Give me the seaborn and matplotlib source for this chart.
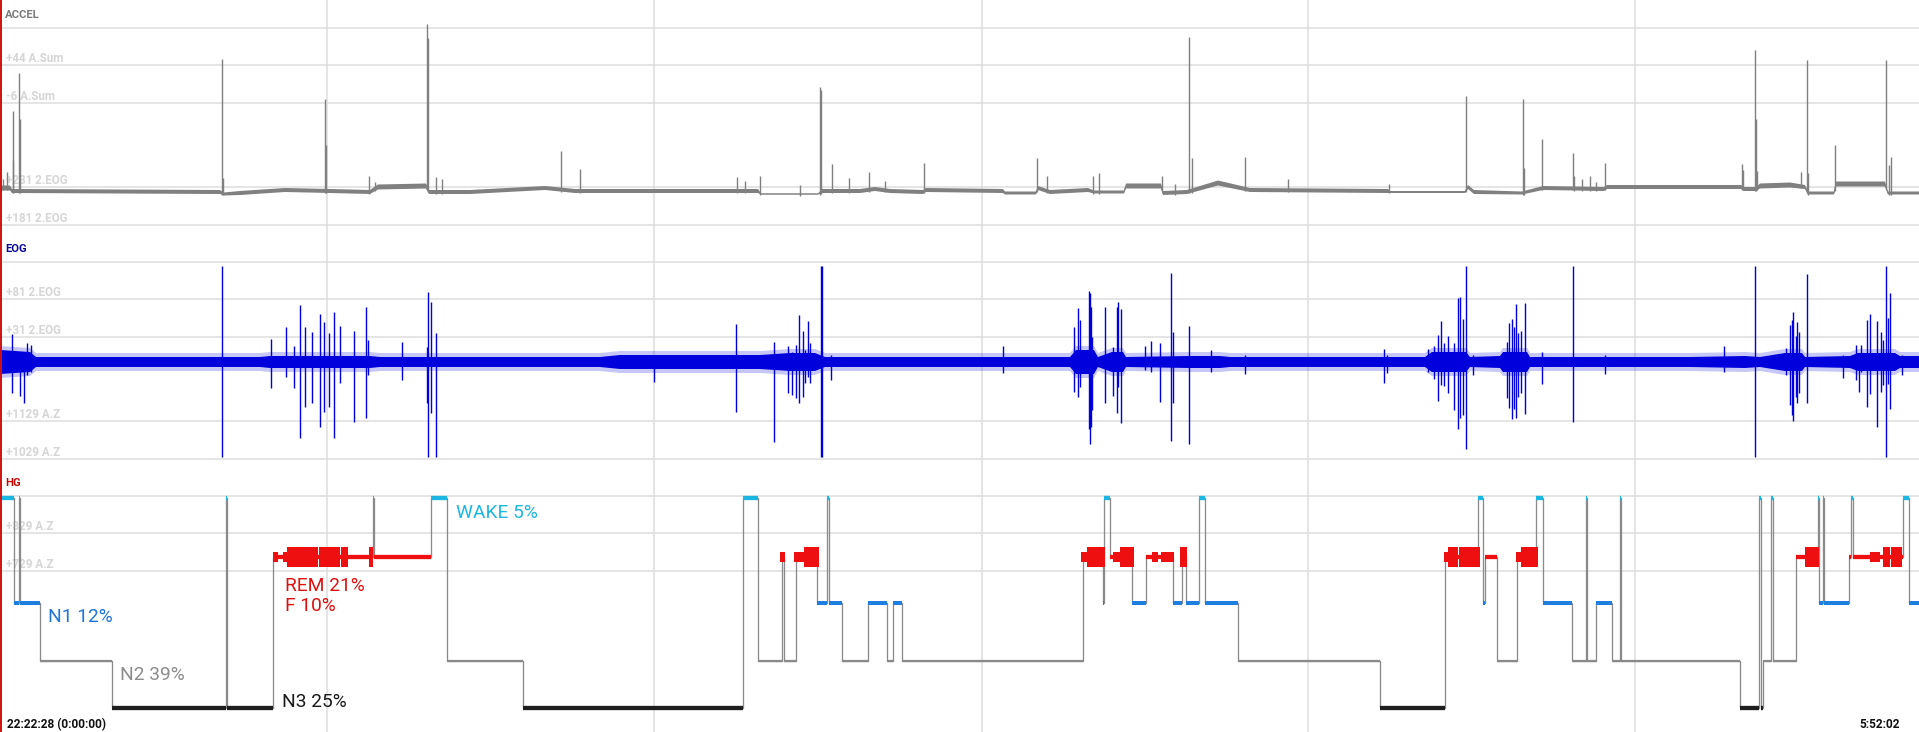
import numpy as np
import matplotlib
matplotlib.use("Agg")
import matplotlib.pyplot as plt
from matplotlib.lines import Line2D
import seaborn as sns

# ---------------- data ----------------
REC_START = "22:22:28"
REC_END = "5:52:02"
TOTAL_MIN = 449.57          # recording length in minutes

grid_minutes = [76.61, 153.33, 230.05, 306.54, 383.15]

# Hypnogram: stage onsets (minutes from start) and stages
hyp_onset = [0.00, 3.28, 4.45, 4.69, 9.37, 26.24, 52.83, 53.18, 63.96, 87.27,
             87.62, 100.97, 104.72, 122.52, 174.06, 177.58, 183.20, 183.67, 186.48, 191.40,
             193.74, 194.21, 197.26, 203.35, 207.80, 209.20, 211.31, 253.71, 258.40, 258.63,
             260.04, 265.19, 268.47, 274.80, 276.91, 277.85, 280.89, 282.30, 290.03, 323.29,
             338.52, 346.25, 347.42, 347.89, 350.70, 355.39, 359.84, 361.48, 368.27, 371.55,
             371.90, 373.90, 377.64, 379.52, 379.87, 407.63, 412.08, 412.55, 413.02, 415.01,
             415.36, 420.75, 425.90, 426.14, 427.07, 427.31, 433.17, 433.63, 434.10, 445.82,
             447.22]
hyp_stage = ['W', 'N1', 'W', 'N1', 'N2', 'N3', 'W', 'N3', 'REM', 'W',
             'REM', 'W', 'N2', 'N3', 'W', 'N2', 'REM', 'N2', 'REM', 'N1',
             'W', 'N1', 'N2', 'N1', 'N2', 'N1', 'N2', 'REM', 'N1', 'W',
             'REM', 'N1', 'REM', 'N1', 'REM', 'N1', 'W', 'N1', 'N2', 'N3',
             'REM', 'W', 'N1', 'REM', 'N2', 'REM', 'W', 'N1', 'N2', 'W',
             'N2', 'N1', 'N2', 'W', 'N2', 'N3', 'W', 'N3', 'N2', 'W',
             'N2', 'REM', 'W', 'N1', 'W', 'N1', 'REM', 'W', 'REM', 'W',
             'N1']

# REM eye-movement density blocks (minutes), M = medium, L = large
rem_start = [63.96, 66.30, 67.24, 74.73, 79.89, 86.45, 182.73, 186.01, 188.35, 253.25,
             254.65, 260.74, 262.38, 269.88, 271.99, 276.44, 338.29, 339.22, 341.80, 355.15,
             356.32, 422.86, 438.09, 441.13, 443.00]
rem_end = [65.13, 67.24, 74.50, 79.65, 81.53, 87.38, 183.90, 188.35, 191.87, 254.65,
           258.87, 262.38, 265.66, 271.29, 275.03, 278.08, 339.22, 341.57, 346.72, 356.32,
           360.31, 426.14, 440.43, 442.77, 445.58]
rem_size = ['M', 'M', 'L', 'L', 'L', 'L', 'M', 'M', 'L', 'M',
            'L', 'M', 'L', 'M', 'M', 'L', 'M', 'L', 'L', 'M',
            'L', 'L', 'M', 'L', 'L']

label_names = ['WAKE', 'N1', 'N2', 'N3', 'REM', 'F']
label_pct = [5, 12, 39, 25, 21, 10]

# ACCEL baseline (minutes, level, noise half-width) and spikes
accel_t = [0.00, 2.34, 2.81, 51.54, 52.48, 56.22, 66.77, 77.31, 86.68, 88.55,
           99.80, 100.50, 110.11, 127.68, 134.71, 177.58, 178.28, 191.63, 192.57, 201.47,
           204.99, 208.50, 216.23, 216.93, 234.97, 235.44, 242.70, 243.17, 245.98, 254.89,
           256.29, 263.32, 263.79, 271.99, 272.46, 278.08, 285.34, 292.84, 325.17, 325.64,
           343.21, 343.91, 345.31, 356.56, 361.48, 375.77, 376.47, 407.86, 408.57, 411.38,
           412.32, 419.35, 422.86, 423.56, 429.65, 430.12, 441.60, 442.30, 449.57]
accel_level = [37, 37, 34, 33, 31, 32, 35, 34, 33, 38,
               39, 33, 33, 37, 34, 34, 31, 31, 34, 34,
               36, 34, 33, 35, 34, 32, 32, 37, 33, 35,
               33, 33, 39, 39, 32, 33, 42, 35, 34, 33,
               33, 38, 33, 32, 37, 36, 38, 38, 36, 36,
               39, 40, 38, 32, 32, 41, 41, 32, 32]
accel_noise = [2.5, 2.5, 2, 2, 1.5, 2, 2, 2, 2, 2.5,
               2.5, 2, 2, 2, 2, 2, 0.5, 0.5, 2, 2,
               2, 2, 2, 2, 2, 1.5, 1.5, 2, 2, 2,
               1.5, 1.5, 2.5, 2.5, 2, 2, 2.5, 2, 2, 1,
               1, 2, 2, 1.5, 2, 2, 2, 2, 2, 2,
               2.5, 2.5, 2, 1.5, 1.5, 2.5, 2.5, 1.5, 1.5]
accel_spike_t = [0.70, 1.64, 2.93, 3.05, 4.45, 4.69, 52.01, 52.24, 76.14, 76.37,
                 86.45, 87.85, 100.03, 100.27, 102.14, 103.55, 131.43, 135.88, 172.66, 174.53,
                 178.05, 187.42, 192.10, 192.34, 194.91, 198.90, 203.58, 207.33, 216.47, 242.94,
                 245.28, 256.06, 257.46, 272.22, 275.27, 278.55, 279.25, 291.67, 301.74, 325.40,
                 343.44, 356.79, 356.96, 361.24, 368.51, 368.74, 370.62, 372.49, 373.90, 376.00,
                 408.10, 408.33, 411.14, 411.38, 411.61, 421.92, 423.33, 423.56, 429.88, 441.83,
                 442.54, 443.00]
accel_spike_peak = [46, 53, 114, 65, 152, 106, 166, 47, 126, 80,
                    49, 43, 201, 187, 48, 46, 74, 56, 48, 44,
                    49, 40, 138, 135, 61, 47, 53, 44, 62, 67,
                    49, 49, 52, 49, 41, 188, 67, 68, 46, 41,
                    129, 126, 57, 86, 72, 49, 46, 49, 43, 62,
                    61, 55, 175, 106, 54, 53, 165, 52, 80, 165,
                    60, 68]

# EOG envelope (minutes, core half-width) and spikes (top / bottom amplitude)
eog_env_t = [0.00, 7.03, 8.43, 60.91, 63.25, 86.68, 89.02, 140.56, 145.25, 178.05,
             185.07, 190.93, 193.27, 250.67, 252.08, 256.29, 257.22, 260.51, 263.09, 263.79,
             278.78, 285.81, 288.15, 333.83, 335.47, 343.44, 344.38, 351.41, 352.11, 357.73,
             358.44, 395.92, 408.80, 412.32, 418.17, 422.16, 422.86, 433.40, 435.27, 443.94,
             445.11, 449.57]
eog_env = [12, 10, 5, 5, 6, 6, 5, 5, 7, 7,
           9, 9, 5, 5, 12, 12, 5, 10, 10, 5,
           6, 6, 5, 5, 10, 10, 5, 6, 10, 10,
           5, 5, 6, 5, 9, 9, 5, 6, 9, 9,
           6, 6]
eog_spike_t = [2.81, 4.69, 5.62, 6.33, 7.26, 52.01, 63.49, 67.00, 68.88, 70.28,
               71.45, 73.09, 74.97, 75.90, 77.07, 78.25, 79.65, 82.93, 85.74, 86.21,
               94.18, 100.03, 100.27, 100.97, 102.14, 153.21, 172.42, 181.32, 184.60, 185.54,
               186.48, 187.18, 188.12, 188.59, 189.29, 189.76, 192.34, 192.57, 194.68, 234.97,
               251.61, 252.54, 253.02, 255.12, 255.36, 255.59, 255.83, 258.87, 260.74, 261.68,
               261.91, 262.62, 268.24, 269.65, 271.75, 274.33, 274.80, 278.55, 283.70, 291.67,
               324.23, 324.93, 334.54, 335.94, 336.88, 337.58, 338.29, 339.22, 340.63, 341.57,
               342.03, 342.74, 343.44, 345.08, 353.04, 353.51, 354.22, 354.68, 355.15, 355.62,
               356.32, 357.26, 361.24, 368.51, 376.00, 403.88, 411.14, 418.41, 419.35, 419.81,
               420.05, 420.75, 420.98, 421.45, 423.33, 431.76, 434.81, 435.51, 435.98, 437.38,
               438.09, 439.72, 440.66, 441.13, 441.83, 442.30, 442.77, 445.58]
eog_spike_top = [28, 7, 10, 19, 17, 96, 23, 35, 16, 57,
                 35, 30, 48, 40, 29, 50, 36, 31, 55, 22,
                 20, 15, 70, 60, 29, 7, 38, 20, 16, 10,
                 17, 47, 31, 12, 41, 19, 96, 96, 7, 16,
                 35, 54, 42, 71, 69, 55, 25, 55, 15, 55,
                 60, 53, 16, 21, 19, 89, 30, 36, 12, 7,
                 13, 7, 13, 16, 27, 41, 19, 26, 19, 64,
                 65, 43, 96, 7, 20, 39, 43, 35, 58, 29,
                 31, 59, 10, 96, 7, 16, 96, 14, 37, 42,
                 50, 26, 40, 30, 88, 7, 17, 7, 17, 42,
                 48, 41, 30, 22, 96, 44, 69, 7]
eog_spike_bot = [-31, -34, -41, -13, -10, -95, -26, -15, -26, -76,
                 -45, -41, -65, -50, -45, -76, -21, -60, -56, -13,
                 -18, -41, -95, -51, -95, -20, -50, -80, -31, -33,
                 -36, -41, -35, -21, -15, -21, -95, -95, -18, -11,
                 -30, -35, -25, -67, -82, -65, -48, -41, -34, -51,
                 -25, -61, -8, -10, -40, -79, -41, -82, -10, -12,
                 -21, -11, -10, -17, -39, -23, -24, -31, -48, -67,
                 -56, -53, -87, -13, -36, -46, -57, -47, -56, -35,
                 -31, -52, -22, -60, -12, -10, -95, -13, -43, -53,
                 -59, -35, -41, -31, -41, -16, -18, -30, -10, -45,
                 -32, -65, -30, -23, -95, -22, -47, -13]

# panel grid levels and their (faint) labels
accel_grid = [197, 160, 122, 38, 0]
accel_grid_labels = [None, "+44 A.Sum", "-6 A.Sum", "+231 2.EOG", "+181 2.EOG"]
eog_grid = [100, 63, 25, -59, -97]
eog_grid_labels = [None, "+81 2.EOG", "+31 2.EOG", "+1129 A.Z", "+1029 A.Z"]
hg_grid = [28, 65, 103]
hg_grid_labels = [None, "+829 A.Z", "+729 A.Z"]

# ---------------- styling ----------------
sns.set_theme(style="white")
plt.rcParams["font.family"] = ["Roboto", "DejaVu Sans"]

W_PX, H_PX = 1919, 732
PX = 0.72  # points per pixel at dpi 100
GRID_C = "#dddddd"
LABEL_C = "#d6d6d6"
ACC_C = "#808080"
EOG_C = "#0000dc"
TRANS_C = "#8a8a8a"
stage_y = {"W": 29.7, "REM": 89.0, "N1": 134.7, "N2": 192.7, "N3": 239.7}
stage_color = {"W": "#1cb6e2", "REM": "#ee1010", "N1": "#1f7fe0", "N2": "#8a8a8a", "N3": "#1e1e1e"}
stage_lw = {"W": 4.3, "REM": 4.3, "N1": 4.0, "N2": 2.2, "N3": 4.3}
rem_half = {"M": 5, "L": 10}

fig = plt.figure(figsize=(W_PX / 100, H_PX / 100), dpi=100)
fig.patch.set_facecolor("white")


def panel(top, h):
    ax = fig.add_axes([0, 1 - (top + h) / H_PX, 1, h / H_PX])
    ax.set_xlim(0, TOTAL_MIN)
    ax.set_axis_off()
    return ax


ax_acc = panel(0, 234)
ax_acc.set_ylim(-9, 225)
ax_eog = panel(234, 234)
ax_eog.set_ylim(-106, 128)
ax_hg = panel(468, 264)
ax_hg.set_ylim(264, 0)


def draw_grid(ax, levels, labels):
    for lv, lab in zip(levels, labels):
        ax.axhline(lv, color=GRID_C, lw=1.5 * PX, zorder=0)
        if lab:
            ax.annotate(lab, xy=(0, lv), xycoords=("axes fraction", "data"),
                        xytext=(6, 3.5), textcoords="offset pixels",
                        fontsize=8.4, fontweight="bold", color=LABEL_C,
                        ha="left", va="baseline", zorder=0.5)
    for gm in grid_minutes:
        ax.axvline(gm, color=GRID_C, lw=1.5 * PX, zorder=0)


def title(ax, text, color):
    ax.annotate(text, xy=(0, 1), xycoords="axes fraction", xytext=(5, -18),
                textcoords="offset pixels", fontsize=8.1, fontweight="bold",
                color=color, ha="left", va="baseline")


draw_grid(ax_acc, accel_grid, accel_grid_labels)
draw_grid(ax_eog, eog_grid, eog_grid_labels)
draw_grid(ax_hg, hg_grid, hg_grid_labels)
title(ax_acc, "ACCEL", "#7a7a7a")
title(ax_eog, "EOG", "#0a0a9a")
title(ax_hg, "HG", "#cc0000")

# ---- ACCEL ----
acc_t = np.array(accel_t)
acc_y = np.array(accel_level, dtype=float)
acc_n = np.array(accel_noise, dtype=float)
ax_acc.fill_between(acc_t, acc_y - acc_n, acc_y + acc_n, color=ACC_C, lw=0, zorder=2)
sns.lineplot(x=acc_t, y=acc_y, ax=ax_acc, color=ACC_C, lw=0.7, estimator=None,
             sort=False, zorder=2)
spk_base = np.interp(accel_spike_t, acc_t, acc_y)
ax_acc.vlines(accel_spike_t, spk_base - 2, accel_spike_peak, color=ACC_C,
              lw=1.4 * PX, zorder=3)

# ---- EOG ----
env_t = np.array(eog_env_t)
env = np.array(eog_env, dtype=float)
ax_eog.fill_between(env_t, -(env + 4), env + 4, color=EOG_C, alpha=0.22, lw=0, zorder=2)
ax_eog.fill_between(env_t, -env, env, color=EOG_C, lw=0, zorder=2)
ax_eog.vlines(eog_spike_t, eog_spike_bot, eog_spike_top, color=EOG_C,
              lw=1.4 * PX, zorder=3)

# ---- Hypnogram ----
hyp_end = hyp_onset[1:] + [TOTAL_MIN]
ys = [stage_y[s] for s in hyp_stage]
sns.lineplot(x=hyp_onset + [TOTAL_MIN], y=ys + [ys[-1]], ax=ax_hg,
             drawstyle="steps-post", estimator=None, sort=False,
             color=TRANS_C, lw=1.3 * PX, zorder=2)
for st in stage_y:
    segs_x0 = [a for a, s in zip(hyp_onset, hyp_stage) if s == st]
    segs_x1 = [b for b, s in zip(hyp_end, hyp_stage) if s == st]
    ax_hg.hlines([stage_y[st]] * len(segs_x0), segs_x0, segs_x1,
                 color=stage_color[st], lw=stage_lw[st] * PX,
                 capstyle="butt", zorder=3)

rs = np.array(rem_start)
rw = np.array(rem_end) - rs
hh = np.array([rem_half[s] for s in rem_size], dtype=float)
ax_hg.bar(rs, 2 * hh, width=rw, bottom=stage_y["REM"] - hh, align="edge",
          color=stage_color["REM"], lw=0, zorder=4)

lab = {n: f"{n} {p}%" for n, p in zip(label_names, label_pct)}
txt_kw = dict(fontsize=13.8, ha="left", va="baseline", zorder=5)
ax_hg.text(106.83, 50, lab["WAKE"], color="#1cb6e2", **txt_kw)
ax_hg.text(11.25, 154, lab["N1"], color="#1f74d8", **txt_kw)
ax_hg.text(28.11, 212, lab["N2"], color="#8c8c8c", **txt_kw)
ax_hg.text(66.06, 239, lab["N3"], color="#1a1a1a", **txt_kw)
ax_hg.text(66.77, 123, lab["REM"], color="#e01010", **txt_kw)
ax_hg.text(66.77, 143, lab["F"], color="#e01010", **txt_kw)

ax_hg.annotate(f"{REC_START} (0:00:00)", xy=(0, 0), xycoords="axes fraction",
               xytext=(7, 4), textcoords="offset pixels", fontsize=8.6,
               fontweight="bold", color="#111111", ha="left", va="baseline")
ax_hg.annotate(REC_END, xy=(1, 0), xycoords="axes fraction",
               xytext=(-19, 4), textcoords="offset pixels", fontsize=8.6,
               fontweight="bold", color="#111111", ha="right", va="baseline")

fig.add_artist(Line2D([1 / W_PX, 1 / W_PX], [0, 1], transform=fig.transFigure,
                      color="#d01010", lw=1.4))

fig.savefig("out.png", dpi=100, facecolor="white")
